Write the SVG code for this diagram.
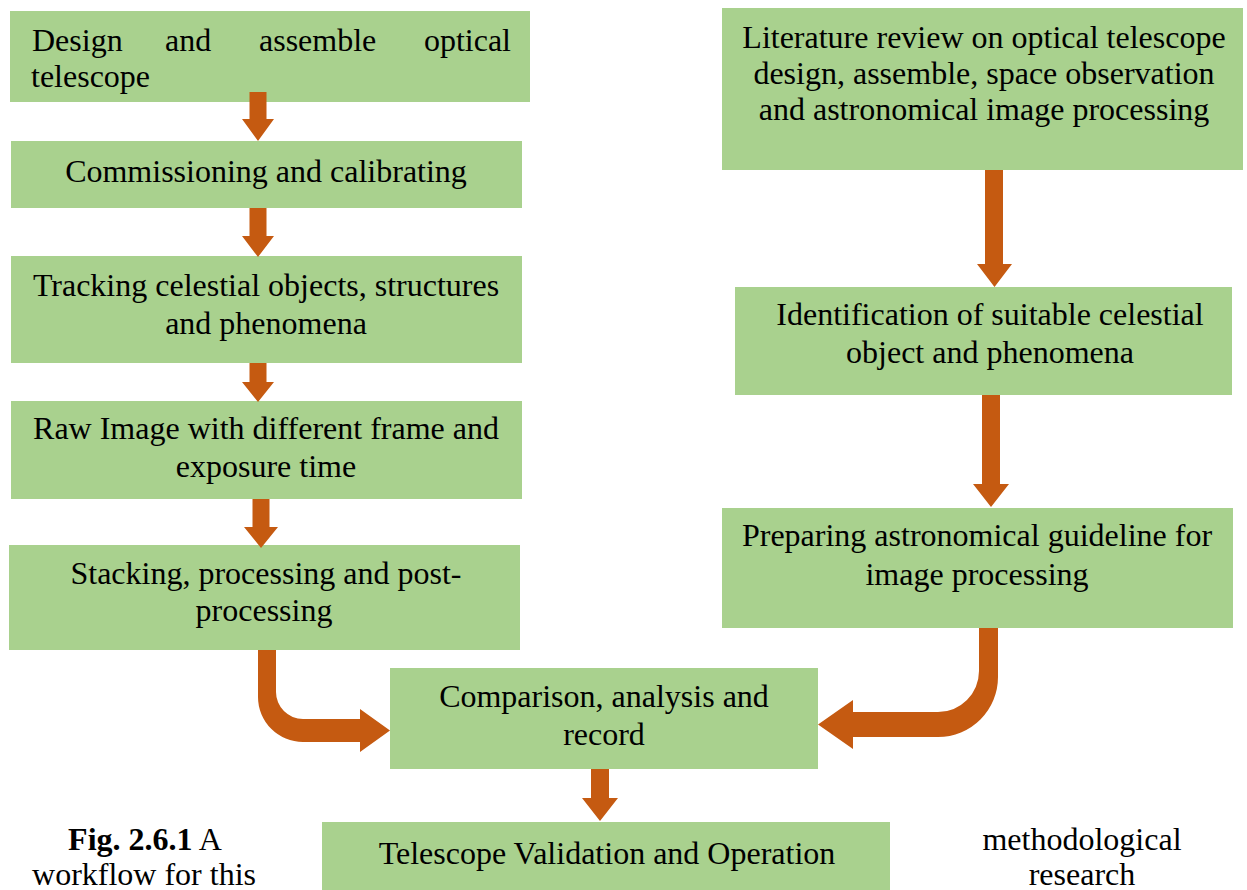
<svg xmlns="http://www.w3.org/2000/svg" width="1247" height="890" viewBox="0 0 1247 890">
<style>
.box{fill:#A9D18E;}
.t{font-family:"Liberation Serif","Times New Roman",serif;font-size:32px;fill:#000;}
.c{text-anchor:middle;}
.arr{fill:#C55A11;}
</style>
<rect width="1247" height="890" fill="#fff"/>
<g id="n1">
<rect class="box" x="10" y="11" width="520" height="91"/>
<text class="t" x="32" y="51">Design</text>
<text class="t" x="165" y="51">and</text>
<text class="t" x="259" y="51">assemble</text>
<text class="t" x="511" y="51" text-anchor="end">optical</text>
<text class="t" x="31" y="87">telescope</text>
</g>
<g id="n2">
<rect class="box" x="11" y="141" width="511" height="67"/>
<text class="t c" x="266" y="182">Commissioning and calibrating</text>
</g>
<g id="n3">
<rect class="box" x="11" y="256" width="511" height="107"/>
<text class="t c" x="266" y="296">Tracking celestial objects, structures</text>
<text class="t c" x="266" y="334">and phenomena</text>
</g>
<g id="n4">
<rect class="box" x="11" y="401" width="511" height="98"/>
<text class="t c" x="266" y="439">Raw Image with different frame and</text>
<text class="t c" x="266" y="477">exposure time</text>
</g>
<g id="n5">
<rect class="box" x="9" y="545" width="511" height="105"/>
<text class="t c" x="266" y="584">Stacking, processing and post-</text>
<text class="t c" x="264" y="621">processing</text>
</g>
<g id="n6">
<rect class="box" x="390" y="668" width="428" height="101"/>
<text class="t c" x="604" y="707">Comparison, analysis and</text>
<text class="t c" x="604" y="745">record</text>
</g>
<g id="n7">
<rect class="box" x="322" y="822" width="568" height="68"/>
<text class="t c" x="607" y="864">Telescope Validation and Operation</text>
</g>
<g id="r1">
<rect class="box" x="722" y="8" width="521" height="162"/>
<text class="t c" x="984" y="48">Literature review on optical telescope</text>
<text class="t c" x="984" y="84">design, assemble, space observation</text>
<text class="t c" x="984" y="120">and astronomical image processing</text>
</g>
<g id="r2">
<rect class="box" x="735" y="287" width="497" height="108"/>
<text class="t c" x="990" y="325">Identification of suitable celestial</text>
<text class="t c" x="990" y="363">object and phenomena</text>
</g>
<g id="r3">
<rect class="box" x="722" y="508" width="511" height="120"/>
<text class="t c" x="977" y="546">Preparing astronomical guideline for</text>
<text class="t c" x="977" y="585">image processing</text>
</g>
<g id="connectors">
<path class="arr" d="M249.5,92 H266.5 V119 H274 L258,141 L242,119 H249.5 Z"/>
<path class="arr" d="M249.5,208 H266.5 V236 H274 L258,257 L242,236 H249.5 Z"/>
<path class="arr" d="M249.5,363 H266.5 V382 H274 L258,402 L242,382 H249.5 Z"/>
<path class="arr" d="M252.5,499 H269.5 V527 H278 L261,548 L244,527 H252.5 Z"/>
<path class="arr" d="M591,769 H609 V798 H618 L600,821 L582,798 H591 Z"/>
<path class="arr" d="M985,170 H1003 V264 H1012 L994.5,287 L977,264 H985 Z"/>
<path class="arr" d="M982,395 H1000 V484 H1009 L991,507 L973,484 H982 Z"/>
<path class="arr" d="M258,650 V697 A45,45 0 0 0 303,742 H360 V752 L390,730.5 L360,709 V719 H303 A27,27 0 0 1 276,692 V650 Z"/>
<path class="arr" d="M998,628 V677 A60,60 0 0 1 938,737 H853 V749 L818,724.5 L853,700 V712 H938 A41,41 0 0 0 979,671 V628 Z"/>
</g>
<g id="caption">
<text class="t c" x="145" y="850"><tspan font-weight="bold">Fig. 2.6.1</tspan> A</text>
<text class="t c" x="144" y="885">workflow for this</text>
<text class="t c" x="1082" y="850">methodological</text>
<text class="t c" x="1082" y="885">research</text>
</g>
</svg>
